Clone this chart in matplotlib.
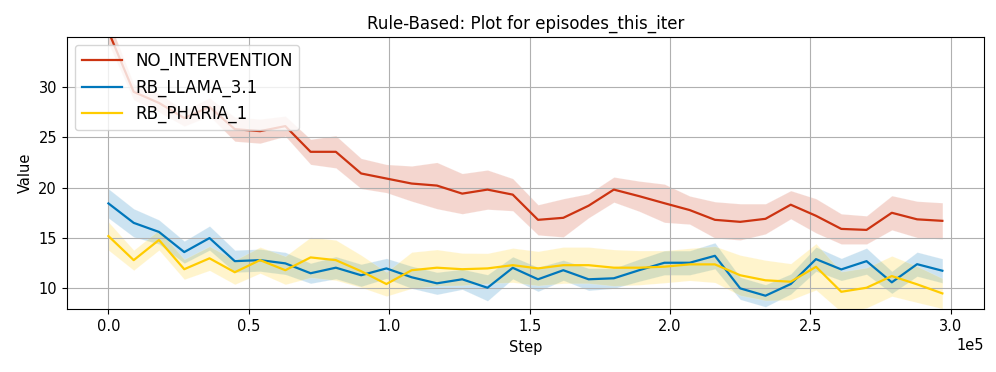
import numpy as np
import matplotlib
matplotlib.use("Agg")
import matplotlib.pyplot as plt

steps = [i * 9000 for i in range(34)]

no_intervention = [35.5, 29.5, 28.4, 26.9, 28.0, 25.8, 25.6, 26.1, 23.55, 23.55,
                   21.4, 20.9, 20.4, 20.2, 19.4, 19.8, 19.3, 16.8, 17.0, 18.2,
                   19.8, 19.15, 18.45, 17.77, 16.8, 16.6, 16.9, 18.3, 17.2, 15.9,
                   15.8, 17.5, 16.85, 16.7]
no_intervention_std = [1.2, 0.8, 0.9, 0.8, 0.9, 1.2, 1.2, 1.0, 1.25, 1.6,
                       1.5, 1.4, 1.75, 2.3, 2.0, 1.95, 1.6, 1.5, 1.9, 1.2,
                       1.25, 1.5, 1.9, 1.4, 1.8, 1.8, 1.5, 1.4, 1.7, 1.5,
                       1.4, 1.7, 1.8, 1.8]

rb_llama = [18.43, 16.5, 15.6, 13.6, 14.99, 12.7, 12.8, 12.48, 11.5, 12.05,
            11.3, 11.98, 11.1, 10.5, 10.9, 10.06, 12.04, 10.9, 11.8, 10.9,
            11.0, 11.8, 12.54, 12.54, 13.23, 10.0, 9.27, 10.43, 12.9, 11.88,
            12.7, 10.6, 12.4, 11.75]
rb_llama_std = [1.45, 1.4, 1.2, 1.1, 1.2, 1.1, 1.1, 1.1, 1.0, 1.1,
                1.1, 1.0, 1.1, 1.1, 1.0, 1.3, 1.1, 1.2, 1.0, 1.1,
                1.0, 1.1, 1.2, 1.2, 1.3, 1.1, 1.1, 1.0, 1.2, 1.1,
                1.3, 1.1, 1.2, 1.2]

rb_pharia = [15.19, 12.8, 14.8, 11.9, 12.98, 11.6, 12.8, 11.8, 13.07, 12.8,
             11.7, 10.43, 11.8, 12.05, 11.9, 11.98, 12.3, 11.98, 12.3, 12.3,
             12.05, 12.05, 12.15, 12.38, 12.38, 11.3, 10.8, 10.66, 12.14, 9.66,
             10.06, 11.22, 10.4, 9.5]
rb_pharia_std = [1.4, 1.0, 1.0, 1.0, 1.2, 1.2, 1.3, 1.4, 2.0, 2.0,
                 1.6, 1.2, 1.8, 1.8, 1.6, 1.5, 1.7, 1.7, 1.8, 1.8,
                 1.8, 1.7, 1.6, 1.6, 1.8, 2.0, 2.0, 1.8, 2.3, 2.0,
                 2.0, 2.0, 1.8, 1.5]

series = [
    ("NO_INTERVENTION", no_intervention, no_intervention_std, "#cc3311"),
    ("RB_LLAMA_3.1", rb_llama, rb_llama_std, "#0077bb"),
    ("RB_PHARIA_1", rb_pharia, rb_pharia_std, "#ffcc00"),
]

fig = plt.figure(figsize=(9.96, 3.72), dpi=100)
ax = fig.add_axes([0.067, 0.1685, 0.921, 0.7325])

x = np.array(steps)
for name, vals, std, color in series:
    v = np.array(vals)
    s = np.array(std)
    ax.plot(x, v, color=color, lw=1.6, label=name)
    ax.fill_between(x, v - s, v + s, color=color, alpha=0.2, edgecolor="white", linewidth=0.6)

ax.set_ylim(7.92, 34.96)
ax.set_title("Rule-Based: Plot for episodes_this_iter", fontsize=12)
ax.set_xlabel("Step", fontsize=10.5)
ax.set_ylabel("Value", fontsize=10.5)
ax.tick_params(labelsize=10.5)
ax.ticklabel_format(axis="x", style="sci", scilimits=(0, 0))
ax.xaxis.get_offset_text().set_fontsize(10.5)
ax.grid(True)
ax.legend(loc="upper left", fontsize=12, handlelength=2.4)

fig.savefig("out.png", dpi=100)
